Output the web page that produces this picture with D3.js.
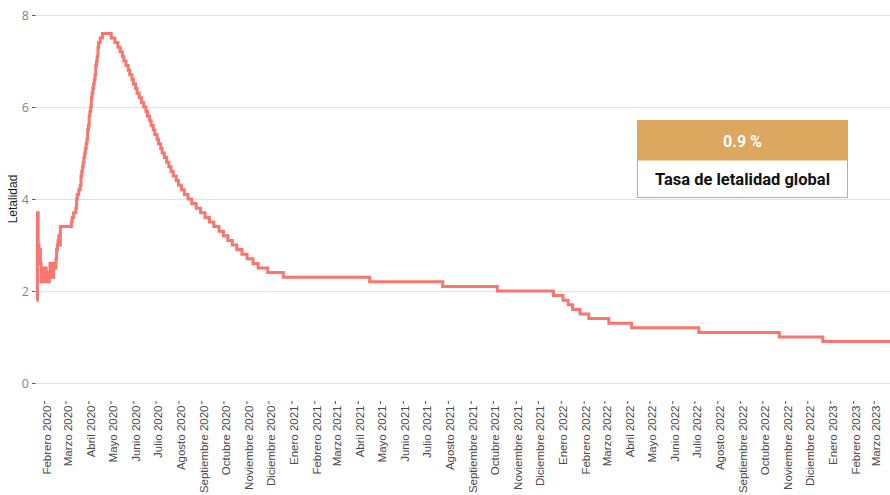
<!DOCTYPE html>
<html>
<head>
<meta charset="utf-8">
<title>Letalidad</title>
<script src="https://d3js.org/d3.v7.min.js"></script>
<style>
  body { margin: 0; padding: 0; overflow: hidden; background: #fff; }
  .grid line { stroke: #e2e2e2; stroke-width: 1; }
  .grid .domain { display: none; }
  .yaxis .domain, .xaxis .domain { display: none; }
  .yaxis line, .xaxis line { stroke: #555; }
  .yaxis text { font-family: "Open Sans", sans-serif; font-size: 12.5px; fill: #858585; }
  .xaxis text { font-family: "Liberation Sans", Arial, sans-serif; font-size: 11.5px; fill: #4a4a4a; }
</style>
</head>
<body>
<script>
// fechas de cambio y letalidad (%)
var fechas = [
  "2020-01-22", "2020-01-23", "2020-01-24", "2020-01-25", "2020-01-26", "2020-01-27",
  "2020-01-28", "2020-01-29", "2020-01-30", "2020-01-31", "2020-02-01", "2020-02-02",
  "2020-02-03", "2020-02-04", "2020-02-05", "2020-02-06", "2020-02-07", "2020-02-08",
  "2020-02-09", "2020-02-10", "2020-02-11", "2020-02-14", "2020-02-15", "2020-02-17",
  "2020-02-18", "2020-02-19", "2020-02-20", "2020-02-21", "2020-02-22", "2020-02-23",
  "2020-03-09", "2020-03-10", "2020-03-12", "2020-03-15", "2020-03-16", "2020-03-17",
  "2020-03-19", "2020-03-21", "2020-03-22", "2020-03-23", "2020-03-24", "2020-03-25",
  "2020-03-26", "2020-03-27", "2020-03-28", "2020-03-29", "2020-03-30", "2020-03-31",
  "2020-04-01", "2020-04-02", "2020-04-03", "2020-04-04", "2020-04-05", "2020-04-06",
  "2020-04-07", "2020-04-08", "2020-04-09", "2020-04-10", "2020-04-11", "2020-04-12",
  "2020-04-13", "2020-04-14", "2020-04-15", "2020-04-17", "2020-04-20",
  "2020-05-02", "2020-05-07", "2020-05-11", "2020-05-14", "2020-05-17", "2020-05-19",
  "2020-05-22", "2020-05-25", "2020-05-27", "2020-05-30", "2020-06-01", "2020-06-04",
  "2020-06-06", "2020-06-09", "2020-06-12", "2020-06-15", "2020-06-18", "2020-06-20",
  "2020-06-23", "2020-06-25", "2020-06-28", "2020-06-30", "2020-07-03", "2020-07-05",
  "2020-07-08", "2020-07-10", "2020-07-13", "2020-07-16", "2020-07-19", "2020-07-22",
  "2020-07-25", "2020-07-29", "2020-08-01", "2020-08-05", "2020-08-09", "2020-08-14",
  "2020-08-19", "2020-08-25", "2020-08-31", "2020-09-06", "2020-09-12", "2020-09-18",
  "2020-09-25", "2020-10-01", "2020-10-07", "2020-10-13", "2020-10-19", "2020-10-26",
  "2020-11-02", "2020-11-10", "2020-11-17", "2020-11-30", "2020-12-21",
  "2021-04-17", "2021-07-25", "2021-10-07", "2021-12-22",
  "2022-01-04", "2022-01-11", "2022-01-17", "2022-01-27", "2022-02-08", "2022-03-07",
  "2022-04-07", "2022-07-07", "2022-10-24", "2022-12-22", "2023-03-23"
];
var letalidad = [
  1.8, 3.7, 3.0, 2.8, 2.9, 2.6,
  2.2, 2.2, 2.5, 2.2, 2.4, 2.2,
  2.5, 2.3, 2.2, 2.3, 2.2, 2.4,
  2.6, 2.5, 2.3, 2.6, 2.5, 2.7,
  2.9, 3.0, 3.1, 3.2, 3.0, 3.4,
  3.5, 3.6, 3.7, 3.8, 4.0, 4.1,
  4.2, 4.3, 4.5, 4.6, 4.7, 4.8,
  4.9, 5.0, 5.1, 5.2, 5.3, 5.5,
  5.6, 5.8, 5.9, 6.0, 6.2, 6.3,
  6.4, 6.5, 6.6, 6.7, 6.9, 7.0,
  7.1, 7.3, 7.4, 7.5, 7.6,
  7.5, 7.4, 7.3, 7.2, 7.1, 7.0,
  6.9, 6.8, 6.7, 6.6, 6.5, 6.4,
  6.3, 6.2, 6.1, 6.0, 5.9, 5.8,
  5.7, 5.6, 5.5, 5.4, 5.3, 5.2,
  5.1, 5.0, 4.9, 4.8, 4.7, 4.6,
  4.5, 4.4, 4.3, 4.2, 4.1, 4.0,
  3.9, 3.8, 3.7, 3.6, 3.5, 3.4,
  3.3, 3.2, 3.1, 3.0, 2.9, 2.8,
  2.7, 2.6, 2.5, 2.4, 2.3,
  2.2, 2.1, 2.0, 1.9,
  1.8, 1.7, 1.6, 1.5, 1.4, 1.3,
  1.2, 1.1, 1.0, 0.9, 0.9
];
var meses = ["Enero", "Febrero", "Marzo", "Abril", "Mayo", "Junio", "Julio",
  "Agosto", "Septiembre", "Octubre", "Noviembre", "Diciembre"];
var yTicks = [0, 2, 4, 6, 8];
var tasaGlobal = "0.9 %";
var tasaTexto = "Tasa de letalidad global";

var width = 890, height = 495;
var parse = d3.timeParse("%Y-%m-%d");
var data = fechas.map((f, i) => ({ fecha: parse(f), valor: letalidad[i] }));

var x = d3.scaleTime()
  .domain(d3.extent(data, d => d.fecha))
  .range([36.7, 890]);
var y = d3.scaleLinear().domain([0, 8]).range([383, 15]);

var svg = d3.select("body").append("svg")
  .attr("width", width)
  .attr("height", height);

// grid
svg.append("g").attr("class", "grid")
  .attr("transform", "translate(36,0)")
  .call(d3.axisLeft(y).tickValues(yTicks).tickSize(-(width - 36)).tickFormat(""));

// y axis
svg.append("g").attr("class", "yaxis")
  .attr("transform", "translate(35.5,0)")
  .call(d3.axisLeft(y).tickValues(yTicks).tickSize(3.5).tickPadding(3));

// x axis, un tick por mes
var mesTicks = d3.timeMonth.range(new Date(2020, 1, 1), new Date(2023, 2, 2));
svg.append("g").attr("class", "xaxis")
  .attr("transform", "translate(0,401)")
  .call(d3.axisBottom(x).tickValues(mesTicks).tickSize(3)
    .tickFormat(d => meses[d.getMonth()] + " " + d.getFullYear()))
  .selectAll("text")
  .attr("transform", "rotate(-90)")
  .attr("text-anchor", "end")
  .attr("x", -4.5)
  .attr("y", 6)
  .attr("dy", 0);

svg.append("text")
  .attr("transform", "translate(17," + y(4) + ") rotate(-90)")
  .attr("text-anchor", "middle")
  .style("font-family", "'Liberation Sans', Arial, sans-serif")
  .style("font-size", "12px")
  .style("fill", "#1a1a1a")
  .text("Letalidad");

var line = d3.line()
  .x(d => x(d.fecha))
  .y(d => y(d.valor))
  .curve(d3.curveStepAfter);

svg.append("path")
  .datum(data)
  .attr("d", line)
  .attr("fill", "none")
  .attr("stroke", "#f8766d")
  .attr("stroke-width", 3);

// recuadro de la tasa global
var box = svg.append("g").attr("transform", "translate(637.5,120.5)");
box.append("rect")
  .attr("width", 210).attr("height", 77)
  .attr("fill", "#fff").attr("stroke", "#dca75f");
box.append("rect")
  .attr("width", 210).attr("height", 39.5)
  .attr("fill", "#dca75f").attr("stroke", "#dca75f");
box.append("text")
  .attr("x", 105).attr("y", 26)
  .attr("text-anchor", "middle")
  .style("font-family", "Roboto, sans-serif")
  .style("font-weight", "bold")
  .style("font-size", "16px")
  .style("fill", "#fff")
  .text(tasaGlobal);
box.append("text")
  .attr("x", 105).attr("y", 64)
  .attr("text-anchor", "middle")
  .style("font-family", "Roboto, sans-serif")
  .style("font-weight", "bold")
  .style("font-size", "16.5px")
  .style("fill", "#111")
  .text(tasaTexto);
</script>
</body>
</html>
